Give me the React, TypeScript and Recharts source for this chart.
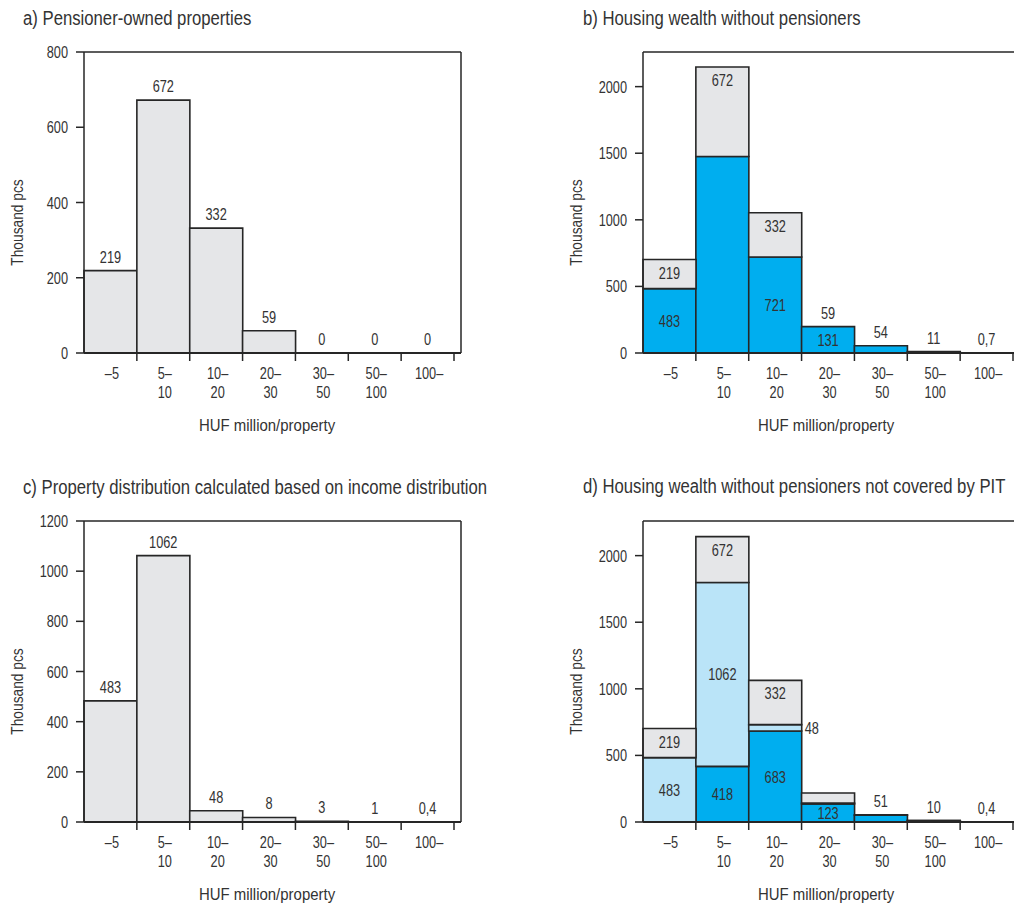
import React from "react";
import { ComposedChart, Bar, Line, XAxis, YAxis, LabelList, Label } from "recharts";

const FONT = "'Liberation Sans', Arial, sans-serif";
const TEXT = "#333333";
const LINE = "#262626";
const GRAY = "#e5e6e8";
const BLUE = "#00aeef";
const LIGHT_BLUE = "#bae4f8";

// ---- categories / tick labels ----
const categories = ["–5", "5–10", "10–20", "20–30", "30–50", "50–100", "100–"];
const tickTop = ["–5", "5–", "10–", "20–", "30–", "50–", "100–"];
const tickBottom = ["", "10", "20", "30", "50", "100", ""];

// ---- a) Pensioner-owned properties ----
const aPensioner = [219, 672, 332, 59, 0, 0, 0];
const aTopLabels = ["219", "672", "332", "59", "0", "0", "0"];

// ---- b) Housing wealth without pensioners ----
const bNonPensioner = [483, 1475, 721, 198, 54, 11, 0.7];
const bPensioner = [219, 672, 332, 0, 0, 0, 0];
const bNonPensionerLabels = ["483", "", "721", "131", "", "", ""];
const bPensionerLabels = ["219", "672", "332", "", "", "", ""];
const bTopLabels = ["", "", "", "59", "54", "11", "0,7"];

// ---- c) Property distribution calculated based on income distribution ----
const cIncomeBased = [483, 1062, 45, 18, 3, 1, 0.4];
const cTopLabels = ["483", "1062", "48", "8", "3", "1", "0,4"];

// ---- d) Housing wealth without pensioners not covered by PIT ----
const dNotCovered = [0, 418, 683, 135, 51, 10, 0.4];
const dIncomeBased = [483, 1380, 48, 8, 3, 1, 0.4];
const dPensioner = [219, 345, 332, 75, 0, 0, 0];
const dNotCoveredLabels = ["", "418", "683", "123", "", "", ""];
const dIncomeBasedLabels = ["483", "1062", "48", "", "", "", ""];
const dPensionerLabels = ["219", "672", "332", "", "", "", ""];
const dTopLabels = ["", "", "", "", "51", "10", "0,4"];

// ---- y axes ----
const aTicks = [0, 200, 400, 600, 800];
const bTicks = [0, 500, 1000, 1500, 2000];
const cTicks = [0, 200, 400, 600, 800, 1000, 1200];
const dTicks = [0, 500, 1000, 1500, 2000];

const CHART_W = 500;
const CHART_H = 450;
const Y_AXIS_W = 84;
const PAD_RIGHT = 7;
const MARGIN_RIGHT = 38;
const PLOT_W = CHART_W - Y_AXIS_W - MARGIN_RIGHT - 1;
const BAND = (PLOT_W - PAD_RIGHT) / categories.length;

const sumAt = (arrs: number[][], i: number) => arrs.reduce((s, a) => s + a[i], 0);

const rowsA = categories.map((c, i) => ({ cat: c, s1: aPensioner[i], total: aPensioner[i], top: aTopLabels[i] }));
const rowsB = categories.map((c, i) => ({
  cat: c,
  s1: bNonPensioner[i],
  s2: bPensioner[i],
  l1: bNonPensionerLabels[i],
  l2: bPensionerLabels[i],
  total: sumAt([bNonPensioner, bPensioner], i),
  top: bTopLabels[i],
}));
const rowsC = categories.map((c, i) => ({ cat: c, s1: cIncomeBased[i], total: cIncomeBased[i], top: cTopLabels[i] }));
const rowsD = categories.map((c, i) => ({
  cat: c,
  s1: dNotCovered[i],
  s2: dIncomeBased[i],
  s3: dPensioner[i],
  l1: dNotCoveredLabels[i],
  l2: dIncomeBasedLabels[i],
  l3: dPensionerLabels[i],
  total: sumAt([dNotCovered, dIncomeBased, dPensioner], i),
  top: dTopLabels[i],
}));

const FS = 17;
const SX = 0.75;

// narrow text: Liberation Sans squeezed horizontally
function NText(props: {
  x: number;
  y: number;
  size?: number;
  sx?: number;
  anchor?: "start" | "middle" | "end";
  rotate?: number;
  children: React.ReactNode;
}) {
  const { x, y, size = FS, sx = SX, anchor = "middle", rotate = 0, children } = props;
  return (
    <g transform={`translate(${x},${y}) rotate(${rotate}) scale(${sx},1)`}>
      <text x={0} y={0} textAnchor={anchor} fontSize={size} fill={TEXT} fontFamily={FONT}>
        {children}
      </text>
    </g>
  );
}

const XTick = (props: any) => {
  const { x, y, index } = props;
  const i = index ?? 0;
  return (
    <g>
      <line x1={x + BAND / 2} x2={x + BAND / 2} y1={y - 8} y2={y} stroke={LINE} strokeWidth={1.5} />
      <NText x={x + 1.5} y={y + 18}>{tickTop[i]}</NText>
      {tickBottom[i] ? <NText x={x + 1.5} y={y + 37}>{tickBottom[i]}</NText> : null}
    </g>
  );
};

const YTick = (props: any) => {
  const { x, y, payload } = props;
  return (
    <NText x={x} y={y + 6} anchor="end">
      {String(payload.value)}
    </NText>
  );
};

const makeLabel = (mode: "top" | "insideTop" | "center") => (props: any) => {
  const vb = props.viewBox && props.viewBox.x !== undefined ? props.viewBox : props;
  const x = vb.x;
  const y = vb.y;
  const width = vb.width || 0;
  const height = vb.height || 0;
  const value = props.value;
  if (value === "" || value === null || value === undefined) return null;
  let tx = x + width / 2;
  let ty = 0;
  let anchor: "middle" | "start" = "middle";
  if (mode === "top") {
    ty = y - 8;
  } else if (mode === "insideTop") {
    ty = y + 19;
  } else {
    if (height < 14) {
      tx = x + width + 3;
      anchor = "start";
    }
    ty = y + height / 2 + 6;
  }
  return (
    <NText x={tx} y={ty} anchor={anchor}>
      {String(value)}
    </NText>
  );
};

const XTitle = (props: any) => {
  const vb = props.viewBox;
  return (
    <NText x={vb.x + 183} y={vb.y + 78} sx={0.88}>
      HUF million/property
    </NText>
  );
};

const YTitle = (props: any) => {
  const vb = props.viewBox;
  const cx = 23;
  const cy = vb.y + vb.height / 2 + 20;
  return (
    <NText x={cx} y={cy} rotate={-90} sx={0.81}>
      Thousand pcs
    </NText>
  );
};

type SeriesDef = { key: string; fill: string; labelKey?: string; mode?: "insideTop" | "center" };

function Panel(props: { left: number; top: number; rows: any[]; series: SeriesDef[]; yMax: number; yTicks: number[] }) {
  const { left, top, rows, series, yMax, yTicks } = props;
  return (
    <div style={{ position: "absolute", left, top, width: CHART_W, height: CHART_H }}>
      <ComposedChart
        width={CHART_W}
        height={CHART_H}
        data={rows}
        margin={{ top: 51, right: MARGIN_RIGHT, bottom: 7, left: 0 }}
        barCategoryGap={0}
        barGap={0}
      >
        <XAxis
          dataKey="cat"
          height={90}
          padding={{ left: 0, right: PAD_RIGHT }}
          tickSize={8}
          tickMargin={0}
          tickLine={false}
          interval={0}
          axisLine={{ stroke: LINE, strokeWidth: 2 }}
          tick={<XTick />}
        >
          <Label content={<XTitle />} />
        </XAxis>
        <XAxis
          xAxisId="frameTop"
          dataKey="cat"
          orientation="top"
          height={1}
          tick={false}
          tickLine={false}
          axisLine={{ stroke: LINE, strokeWidth: 1.5 }}
        />
        <YAxis
          width={Y_AXIS_W}
          domain={[0, yMax]}
          ticks={yTicks}
          interval={0}
          tickSize={8}
          tickMargin={8}
          tickLine={{ stroke: LINE, strokeWidth: 1.5 }}
          axisLine={{ stroke: LINE, strokeWidth: 1.5 }}
          tick={<YTick />}
          allowDataOverflow
        >
          <Label content={<YTitle />} />
        </YAxis>
        <YAxis
          yAxisId="frameRight"
          orientation="right"
          width={1}
          domain={[0, 1]}
          tick={false}
          tickLine={false}
          axisLine={{ stroke: LINE, strokeWidth: 1.5 }}
        />
        {series.map((s) => (
          <Bar
            key={s.key}
            dataKey={s.key}
            stackId="a"
            fill={s.fill}
            stroke={LINE}
            strokeWidth={1.6}
            isAnimationActive={false}
          >
            {s.labelKey ? <LabelList dataKey={s.labelKey} content={makeLabel(s.mode || "center")} /> : null}
          </Bar>
        ))}
        <Line
          dataKey="total"
          stroke="none"
          dot={false}
          activeDot={false}
          legendType="none"
          isAnimationActive={false}
        >
          <LabelList dataKey="top" content={makeLabel("top")} />
        </Line>
      </ComposedChart>
    </div>
  );
}

const titleStyle = (left: number, baseline: number): React.CSSProperties => ({
  position: "absolute",
  left,
  top: baseline - 20,
  fontSize: 20,
  lineHeight: "25px",
  fontFamily: FONT,
  color: TEXT,
  whiteSpace: "nowrap",
  transform: "scaleX(0.835)",
  transformOrigin: "0 0",
});

export default function App() {
  return (
    <div
      style={{
        position: "absolute",
        left: 0,
        top: 0,
        width: 1014,
        height: 906,
        overflow: "hidden",
        background: "#ffffff",
        fontFamily: FONT,
      }}
    >
      <div style={titleStyle(23, 25.5)}>a) Pensioner-owned properties</div>
      <div style={titleStyle(583, 25.5)}>b) Housing wealth without pensioners</div>
      <div style={titleStyle(23, 494.5)}>c) Property distribution calculated based on income distribution</div>
      <div style={titleStyle(583, 493.5)}>d) Housing wealth without pensioners not covered by PIT</div>

      <Panel left={0} top={0} rows={rowsA} series={[{ key: "s1", fill: GRAY }]} yMax={800} yTicks={aTicks} />
      <Panel
        left={559}
        top={0}
        rows={rowsB}
        series={[
          { key: "s1", fill: BLUE, labelKey: "l1", mode: "center" },
          { key: "s2", fill: GRAY, labelKey: "l2", mode: "insideTop" },
        ]}
        yMax={2260}
        yTicks={bTicks}
      />
      <Panel left={0} top={469} rows={rowsC} series={[{ key: "s1", fill: GRAY }]} yMax={1200} yTicks={cTicks} />
      <Panel
        left={559}
        top={469}
        rows={rowsD}
        series={[
          { key: "s1", fill: BLUE, labelKey: "l1", mode: "center" },
          { key: "s2", fill: LIGHT_BLUE, labelKey: "l2", mode: "center" },
          { key: "s3", fill: GRAY, labelKey: "l3", mode: "insideTop" },
        ]}
        yMax={2260}
        yTicks={dTicks}
      />
    </div>
  );
}
